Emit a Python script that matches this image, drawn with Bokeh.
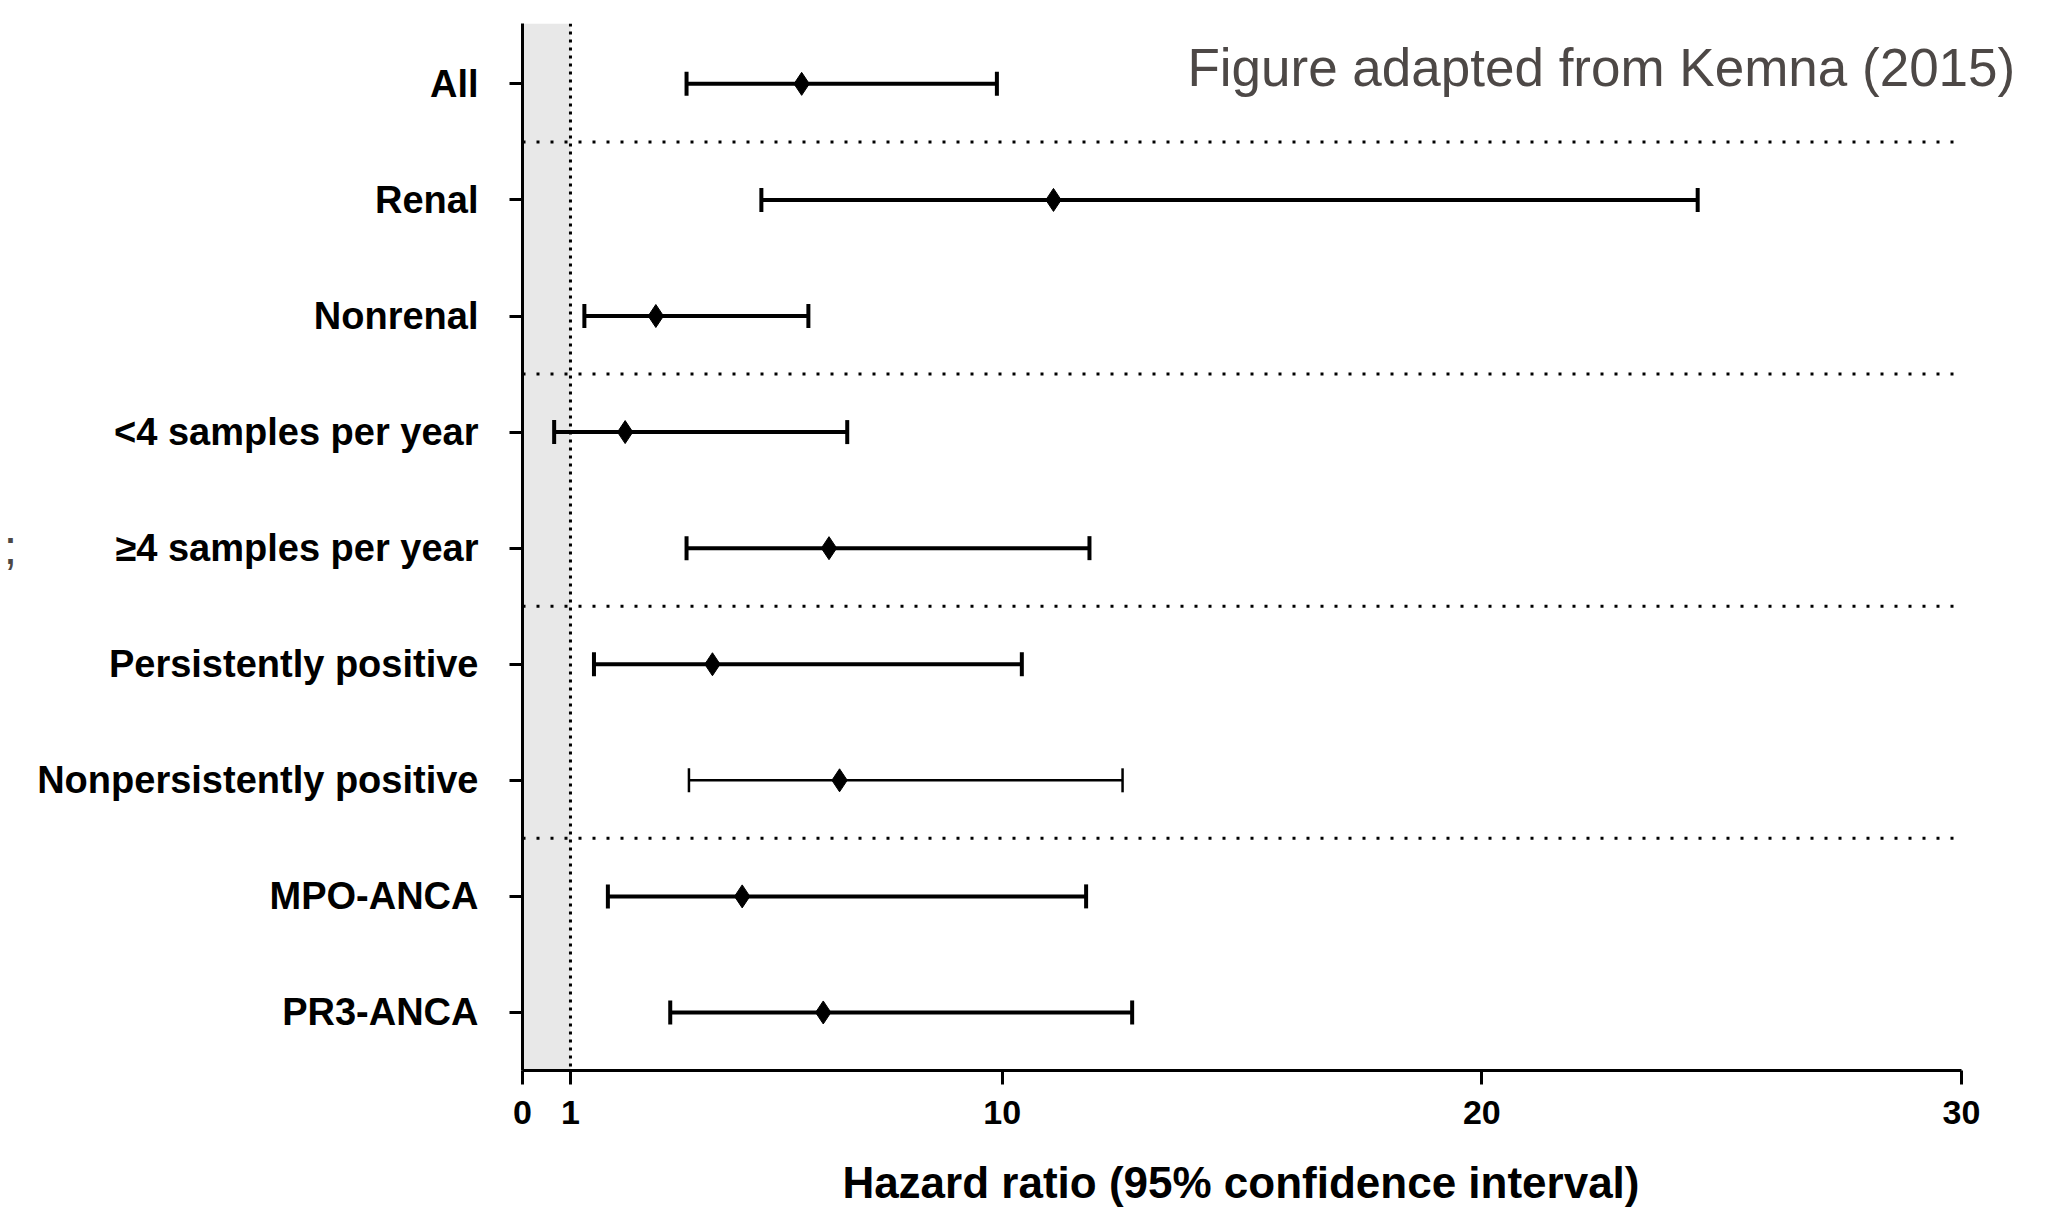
import numpy as np
from bokeh.plotting import figure
from bokeh.models import ColumnDataSource, FixedTicker, BoxAnnotation, Span, Label, Range1d
from bokeh.embed import file_html
from bokeh.resources import INLINE

# ---- data ----
categories = ["All", "Renal", "Nonrenal", "<4 samples per year", "\u22654 samples per year",
              "Persistently positive", "Nonpersistently positive", "MPO-ANCA", "PR3-ANCA"]
hazard_ratio = [5.82, 11.07, 2.78, 2.14, 6.39, 3.96, 6.61, 4.58, 6.27]
ci_lower = [3.42, 4.98, 1.29, 0.66, 3.42, 1.49, 3.47, 1.78, 3.08]
ci_upper = [9.89, 24.50, 5.96, 6.77, 11.82, 10.41, 12.51, 11.75, 12.71]
group_sizes = [1, 2, 2, 2, 2]
x_ticks = [0, 1, 10, 20, 30]
reference_line = 1
x_axis_title = "Hazard ratio (95% confidence interval)"
note_text = "Figure adapted from Kemna (2015)"
edge_text = ";"

# ---- styles ----
line_widths = [4, 4, 4, 4, 4, 4, 2.5, 4, 4]
FONT = "Liberation Sans"
NOTE_COLOR = "#4d4846"
X_PAD = 1.23          # extra room right of the axis end, for the note
# the frame extends past the axis end (for the note); trailing no-break spaces
# keep the axis title centred under the 0-30 axis itself
TITLE_PAD = "\u00a0" * 5

n = len(categories)
ys = [n - i for i in range(n)]
cum = np.cumsum(group_sizes)[:-1]
separators = [n - c + 0.5 for c in cum]

src = ColumnDataSource(dict(y=ys, hr=hazard_ratio, lo=ci_lower, hi=ci_upper, lw=line_widths))
sep_src = ColumnDataSource(dict(y=separators,
                                x0=[x_ticks[0]] * len(separators),
                                x1=[x_ticks[-1]] * len(separators)))

p = figure(width=2051, height=1209, x_range=Range1d(x_ticks[0], x_ticks[-1] + X_PAD),
           y_range=Range1d(0.5, n + 0.52), output_backend="svg", toolbar_location=None,
           min_border_left=517, min_border_right=31, min_border_top=23, min_border_bottom=139)
p.outline_line_color = None
p.grid.visible = False
p.background_fill_color = "white"

# shaded band below HR = 1
p.add_layout(BoxAnnotation(left=x_ticks[0], right=reference_line, fill_color="#e8e8e8",
                           fill_alpha=1.0, line_color=None, level="underlay"))
p.add_layout(Span(location=reference_line, dimension="height", line_color="black",
                  line_width=3, line_dash="3 5"))
# group separators
p.segment(x0="x0", x1="x1", y0="y", y1="y", line_color="black", line_width=3,
          line_dash="3 11", source=sep_src)

# error bars
p.segment(x0="lo", x1="hi", y0="y", y1="y", line_width="lw", line_color="black", source=src)
p.scatter(x="lo", y="y", marker="dash", angle=np.pi / 2, size=24, line_width="lw",
          line_color="black", source=src)
p.scatter(x="hi", y="y", marker="dash", angle=np.pi / 2, size=24, line_width="lw",
          line_color="black", source=src)
p.scatter(x="hr", y="y", marker="diamond", size=23, fill_color="black", line_color="black",
          source=src)

# axes
xa = p.xaxis[0]
xa.bounds = (x_ticks[0], x_ticks[-1])
xa.ticker = FixedTicker(ticks=x_ticks)
xa.major_label_text_font = FONT
xa.major_label_text_font_style = "bold"
xa.major_label_text_font_size = "34px"
xa.major_label_text_color = "black"
xa.major_label_standoff = 16
xa.major_tick_out = 14
xa.major_tick_in = 0
xa.major_tick_line_width = 3
xa.minor_tick_line_color = None
xa.axis_line_width = 3
xa.axis_line_color = "black"
xa.axis_label = x_axis_title + TITLE_PAD
xa.axis_label_text_font = FONT
xa.axis_label_text_font_style = "bold"
xa.axis_label_text_font_size = "44px"
xa.axis_label_text_color = "black"
xa.axis_label_standoff = 31

ya = p.yaxis[0]
ya.ticker = FixedTicker(ticks=ys)
ya.major_label_overrides = {y: c for y, c in zip(ys, categories)}
ya.major_label_text_font = FONT
ya.major_label_text_font_style = "bold"
ya.major_label_text_font_size = "38px"
ya.major_label_text_color = "black"
ya.major_label_standoff = 31
ya.major_tick_out = 13
ya.major_tick_in = 0
ya.major_tick_line_width = 3
ya.minor_tick_line_color = None
ya.axis_line_width = 3
ya.axis_line_color = "black"
# clipped text fragment at the far left edge
ya.axis_label = edge_text
ya.axis_label_orientation = "horizontal"
ya.axis_label_text_font = FONT
ya.axis_label_text_font_style = "normal"
ya.axis_label_text_font_size = "48px"
ya.axis_label_text_color = NOTE_COLOR
ya.axis_label_standoff = 17

# note in the top right
p.add_layout(Label(x=31.12, y=9.14, text=note_text, text_font=FONT,
                   text_font_size="53px", text_align="right", text_baseline="alphabetic",
                   text_color=NOTE_COLOR))

open("out.html", "w").write(file_html(p, INLINE))
